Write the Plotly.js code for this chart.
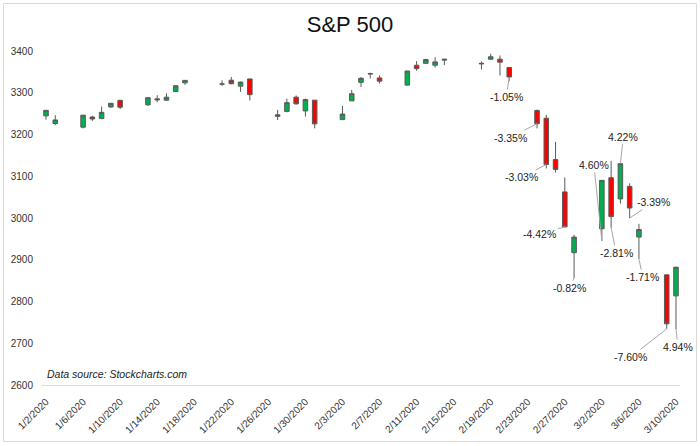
<!DOCTYPE html>
<html>
<head>
<meta charset="utf-8">
<script src="https://cdn.plot.ly/plotly-3.0.1.min.js"></script>
<style>
  html, body { margin: 0; padding: 0; background: #fff; }
  #chart { width: 700px; height: 446px; }
</style>
</head>
<body>
<div id="chart"></div>
<script>
// ---- data (S&P 500 daily OHLC) ----
var dates = ['2020-01-02','2020-01-03','2020-01-06','2020-01-07','2020-01-08','2020-01-09','2020-01-10',
  '2020-01-13','2020-01-14','2020-01-15','2020-01-16','2020-01-17','2020-01-21','2020-01-22','2020-01-23',
  '2020-01-24','2020-01-27','2020-01-28','2020-01-29','2020-01-30','2020-01-31','2020-02-03','2020-02-04',
  '2020-02-05','2020-02-06','2020-02-07','2020-02-10','2020-02-11','2020-02-12','2020-02-13','2020-02-14',
  '2020-02-18','2020-02-19','2020-02-20','2020-02-21','2020-02-24','2020-02-25','2020-02-26','2020-02-27',
  '2020-02-28','2020-03-02','2020-03-03','2020-03-04','2020-03-05','2020-03-06','2020-03-09','2020-03-10'];
var open  = [3244.67,3226.36,3217.55,3241.86,3238.59,3266.03,3281.81,3271.13,3285.35,3282.27,3302.97,3323.66,
  3321.03,3330.02,3315.77,3333.10,3247.16,3255.35,3289.46,3256.45,3282.33,3235.66,3280.61,3324.91,3344.92,
  3335.54,3318.28,3365.87,3370.50,3365.90,3378.08,3369.04,3380.39,3380.45,3360.50,3257.61,3238.94,3139.90,
  3062.54,2916.90,2974.28,3096.46,3045.75,3075.70,2954.20,2863.89,2813.48];
var high  = [3258.14,3246.15,3246.84,3244.91,3267.07,3275.58,3282.99,3288.13,3294.25,3298.66,3317.11,3329.88,
  3329.79,3337.77,3326.88,3333.18,3258.85,3285.78,3293.47,3285.91,3282.33,3268.44,3306.92,3337.58,3347.96,
  3341.42,3352.26,3375.63,3381.47,3385.09,3380.69,3375.01,3393.52,3389.15,3360.76,3259.81,3246.99,3182.51,
  3097.07,2959.72,3090.96,3136.72,3130.97,3083.04,2985.93,2863.89,2882.59];
var low   = [3235.53,3222.34,3214.64,3232.43,3236.67,3263.67,3260.86,3268.43,3277.19,3280.69,3302.82,3318.86,
  3316.61,3320.04,3301.87,3281.53,3234.50,3253.22,3271.89,3242.80,3214.68,3235.66,3280.61,3313.75,3334.39,
  3322.12,3317.77,3352.72,3369.72,3360.52,3366.15,3355.61,3378.83,3341.02,3328.45,3214.65,3118.77,3108.99,
  2977.39,2855.84,2945.19,2976.63,3034.38,2999.83,2901.54,2734.43,2734.00];
var close = [3257.85,3234.85,3246.28,3237.18,3253.05,3274.70,3265.35,3288.13,3283.15,3289.29,3316.81,3329.62,
  3320.79,3321.75,3325.54,3295.47,3243.63,3276.24,3273.40,3283.66,3225.52,3248.92,3297.59,3334.69,3345.78,
  3327.71,3352.09,3357.75,3379.45,3373.94,3380.16,3370.29,3386.15,3373.23,3337.75,3225.89,3128.21,3116.39,
  2978.76,2954.22,3090.23,3003.37,3130.12,3023.94,2972.37,2746.56,2882.23];

// daily % change labels
var labelDates  = ['2020-02-21','2020-02-24','2020-02-25','2020-02-27','2020-02-28','2020-03-02',
                   '2020-03-03','2020-03-04','2020-03-05','2020-03-06','2020-03-09','2020-03-10'];
var labelTexts  = ['-1.05%','-3.35%','-3.03%','-4.42%','-0.82%','4.60%',
                   '-2.81%','4.22%','-3.39%','-1.71%','-7.60%','4.94%'];
var labelAnchor = ['close','close','close','close','low','low',
                   'low','close','low','low','low','low'];

// tick labels
var tickDates = ['2020-01-02','2020-01-06','2020-01-10','2020-01-14','2020-01-18','2020-01-22','2020-01-26',
  '2020-01-30','2020-02-03','2020-02-07','2020-02-11','2020-02-15','2020-02-19','2020-02-23','2020-02-27',
  '2020-03-02','2020-03-06','2020-03-10'];
var tickLabels = ['1/2/2020','1/6/2020','1/10/2020','1/14/2020','1/18/2020','1/22/2020','1/26/2020',
  '1/30/2020','2/3/2020','2/7/2020','2/11/2020','2/15/2020','2/19/2020','2/23/2020','2/27/2020',
  '3/2/2020','3/6/2020','3/10/2020'];
var yTicks = [2600,2700,2800,2900,3000,3100,3200,3300,3400];

// ---- layout-only settings ----
var labelOffsets = [[-3,20],[-27,14],[-25,13],[-25,7],[-5,10],[-8,-76],
                    [5,25],[3,-27],[24,-16],[4,18],[-36,28],[2,18]];

var FONT = 'Liberation Sans, Arial, sans-serif';
var series = {close: close, low: low};

var annotations = labelDates.map(function (d, i) {
  var idx = dates.indexOf(d);
  return {
    x: d, y: series[labelAnchor[i]][idx], xref: 'x', yref: 'y',
    text: labelTexts[i], showarrow: true, arrowhead: 0, arrowwidth: 1,
    arrowcolor: '#a6a6a6', ax: labelOffsets[i][0], ay: labelOffsets[i][1],
    standoff: 0, startstandoff: 0,
    font: {family: FONT, size: 10.5, color: '#222'}
  };
});
annotations.push({
  xref: 'paper', yref: 'paper', x: 0.005, y: 0.033, xanchor: 'left', yanchor: 'middle',
  text: '<i>Data source: Stockcharts.com</i>', showarrow: false,
  font: {family: FONT, size: 10.5, color: '#222'}
});

var trace = {
  type: 'candlestick',
  x: dates, open: open, high: high, low: low, close: close,
  increasing: {line: {color: '#595959', width: 1}, fillcolor: '#00b050'},
  decreasing: {line: {color: '#595959', width: 1}, fillcolor: '#ff0000'},
  whiskerwidth: 0,
  hoverinfo: 'skip'
};

var layout = {
  width: 700, height: 446,
  margin: {l: 42, r: 20, t: 51, b: 61},
  paper_bgcolor: '#fff', plot_bgcolor: '#fff',
  showlegend: false,
  title: {text: 'S&P 500', font: {family: FONT, size: 22, color: '#111'},
          x: 0.5, xanchor: 'center', y: 1 - 24 / 446, yanchor: 'middle'},
  xaxis: {
    type: 'date', range: ['2020-01-01 13:36', '2020-03-10 10:24'],
    rangeslider: {visible: false},
    tickmode: 'array', tickvals: tickDates, ticktext: tickLabels, tickangle: -45,
    ticks: '', showgrid: false, zeroline: false,
    showline: true, linecolor: '#d9d9d9', linewidth: 1,
    ticklabelstandoff: 6,
    tickfont: {family: FONT, size: 10, color: '#333'}
  },
  yaxis: {
    range: [2600, 3400], tickmode: 'array', tickvals: yTicks, ticktext: yTicks.map(String),
    ticks: '', showgrid: false, zeroline: false, showline: false,
    ticklabelstandoff: 8,
    tickfont: {family: FONT, size: 10, color: '#333'}
  },
  annotations: annotations,
  shapes: [{
    type: 'rect', xref: 'paper', yref: 'paper',
    x0: (3.5 - 42) / 638, x1: (696.5 - 42) / 638,
    y0: (385 - 441.5) / 334, y1: (385 - 3.5) / 334,
    line: {color: '#d9d9d9', width: 1}, fillcolor: 'rgba(0,0,0,0)', layer: 'below'
  }]
};

Plotly.newPlot('chart', [trace], layout, {displayModeBar: false, staticPlot: true});
</script>
</body>
</html>
